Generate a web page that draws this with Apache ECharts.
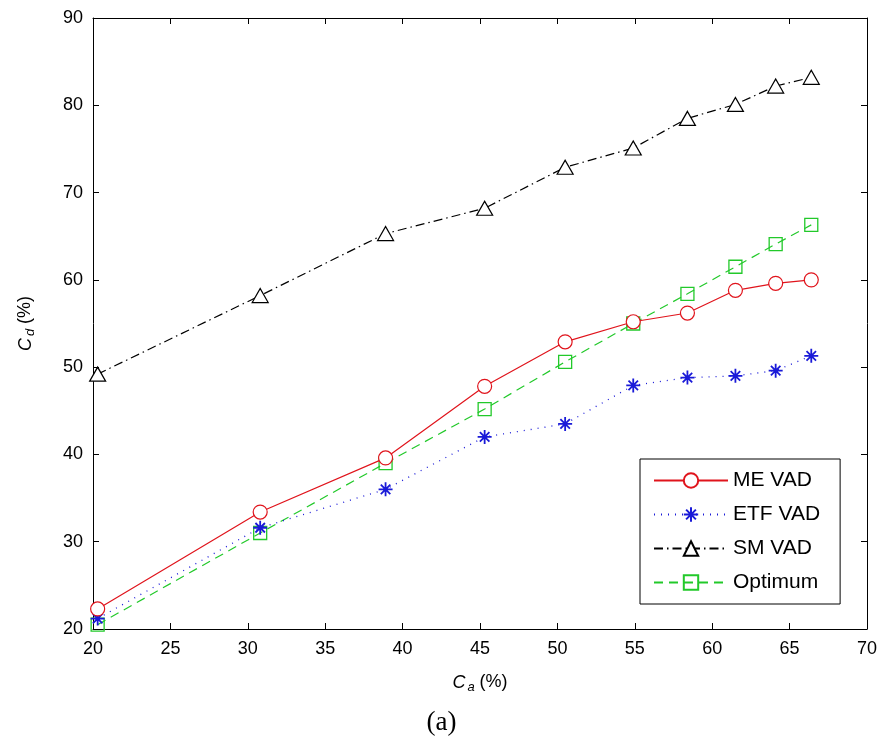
<!DOCTYPE html>
<html>
<head>
<meta charset="utf-8">
<script src="https://cdn.jsdelivr.net/npm/echarts@6/dist/echarts.min.js"></script>
<style>
  html, body { margin: 0; padding: 0; background: #fff; }
  #chart { width: 883px; height: 746px; }
</style>
</head>
<body>
<div id="chart"></div>
<script>
// Data
const caValues = [20.3, 30.8, 38.9, 45.3, 50.5, 54.9, 58.4, 61.5, 64.1, 66.4];
const meVad    = [22.3, 33.4, 39.6, 47.8, 52.9, 55.2, 56.2, 58.8, 59.6, 60.0];
const etfVad   = [21.2, 31.6, 36.0, 42.0, 43.5, 47.9, 48.8, 49.0, 49.6, 51.3];
const smVad    = [49.2, 58.2, 65.3, 68.2, 72.9, 75.1, 78.5, 80.1, 82.2, 83.2];
const optimum  = [20.5, 31.0, 39.0, 45.2, 50.6, 55.0, 58.4, 61.5, 64.1, 66.3];
const seriesNames = ['ME VAD', 'ETF VAD', 'SM VAD', 'Optimum'];
const xTicks = { min: 20, max: 70, interval: 5 };
const yTicks = { min: 20, max: 90, interval: 10 };

const pair = arr => caValues.map((x, i) => [x, arr[i]]);
const FONT = '"Liberation Sans", Arial, sans-serif';
const TICK_FS = 18;
const asterisk = 'path://M0,5L10,5M5,0L5,10M1.6,1.6L8.4,8.4M8.4,1.6L1.6,8.4';

const chart = echarts.init(document.getElementById('chart'), null, { renderer: 'canvas' });

const baseAxis = {
  axisLine: { show: true, lineStyle: { color: '#000', width: 1 } },
  axisTick: { show: true, inside: true, length: 6, lineStyle: { color: '#000', width: 1 } },
  splitLine: { show: false },
  axisLabel: { color: '#000', fontFamily: FONT, fontSize: TICK_FS }
};
const nameRich = {
  c: { fontFamily: FONT, fontSize: TICK_FS, fontStyle: 'italic', color: '#000' },
  s: { fontFamily: FONT, fontSize: 13, fontStyle: 'italic', color: '#000', verticalAlign: 'bottom', padding: [10, 0, 0, 2] },
  p: { fontFamily: FONT, fontSize: TICK_FS, color: '#000' }
};

chart.setOption({
  backgroundColor: '#fff',
  animation: false,
  grid: { left: 93, right: 16, top: 18, bottom: 117, containLabel: false },
  xAxis: [
    Object.assign({}, baseAxis, {
      type: 'value', position: 'bottom', min: xTicks.min, max: xTicks.max, interval: xTicks.interval,
      axisLabel: { color: '#000', fontFamily: FONT, fontSize: TICK_FS, margin: 11 },
      name: '{c|C}{s|a}{p| (%)}', nameLocation: 'middle', nameGap: 42,
      nameTextStyle: { color: '#000', fontFamily: FONT, fontSize: TICK_FS, rich: nameRich }
    }),
    Object.assign({}, baseAxis, {
      type: 'value', position: 'top', min: xTicks.min, max: xTicks.max, interval: xTicks.interval,
      axisLabel: { show: false }
    })
  ],
  yAxis: [
    Object.assign({}, baseAxis, {
      type: 'value', position: 'left', min: yTicks.min, max: yTicks.max, interval: yTicks.interval,
      axisLabel: { color: '#000', fontFamily: FONT, fontSize: TICK_FS, margin: 10 },
      name: '{c|C}{s|d}{p| (%)}', nameLocation: 'middle', nameGap: 56, nameRotate: 90,
      nameTextStyle: { color: '#000', fontFamily: FONT, fontSize: TICK_FS, rich: nameRich }
    }),
    Object.assign({}, baseAxis, {
      type: 'value', position: 'right', min: yTicks.min, max: yTicks.max, interval: yTicks.interval,
      axisLabel: { show: false }
    })
  ],
  legend: {
    data: seriesNames,
    orient: 'vertical',
    left: 640, top: 459,
    padding: [11, 20, 11, 13],
    itemWidth: 74, itemHeight: 18, itemGap: 13,
    borderColor: '#000', borderWidth: 1, backgroundColor: '#fff',
    textStyle: { color: '#000', fontFamily: FONT, fontSize: 21 }
  },
  graphic: [{
    type: 'text', left: 'center', top: 709,
    style: { text: '(a)', font: '27px "Liberation Serif", "Times New Roman", serif', fill: '#000' }
  }],
  series: [
    {
      name: seriesNames[0], type: 'line', data: pair(meVad),
      symbol: 'circle', symbolSize: 14, showAllSymbol: true,
      lineStyle: { color: '#e0141c', width: 1.2, type: 'solid' },
      itemStyle: { color: '#fff', borderColor: '#e0141c', borderWidth: 1.2 },
      z: 4
    },
    {
      name: seriesNames[1], type: 'line', data: pair(etfVad),
      symbol: asterisk, symbolSize: 14,
      lineStyle: { color: '#1a1ad8', width: 1.3, type: [1, 6] },
      itemStyle: { color: 'none', borderColor: '#1a1ad8', borderWidth: 1.8 },
      z: 3
    },
    {
      name: seriesNames[2], type: 'line', data: pair(smVad),
      symbol: 'triangle', symbolSize: [16, 14],
      lineStyle: { color: '#000', width: 1.2, type: [9, 4, 1.5, 4] },
      itemStyle: { color: '#fff', borderColor: '#000', borderWidth: 1.2 },
      z: 4
    },
    {
      name: seriesNames[3], type: 'line', data: pair(optimum),
      symbol: 'rect', symbolSize: 13,
      lineStyle: { color: '#22c92a', width: 1.2, type: [9, 6] },
      itemStyle: { color: 'none', borderColor: '#22c92a', borderWidth: 1.3 },
      z: 2
    }
  ]
});
</script>
</body>
</html>
